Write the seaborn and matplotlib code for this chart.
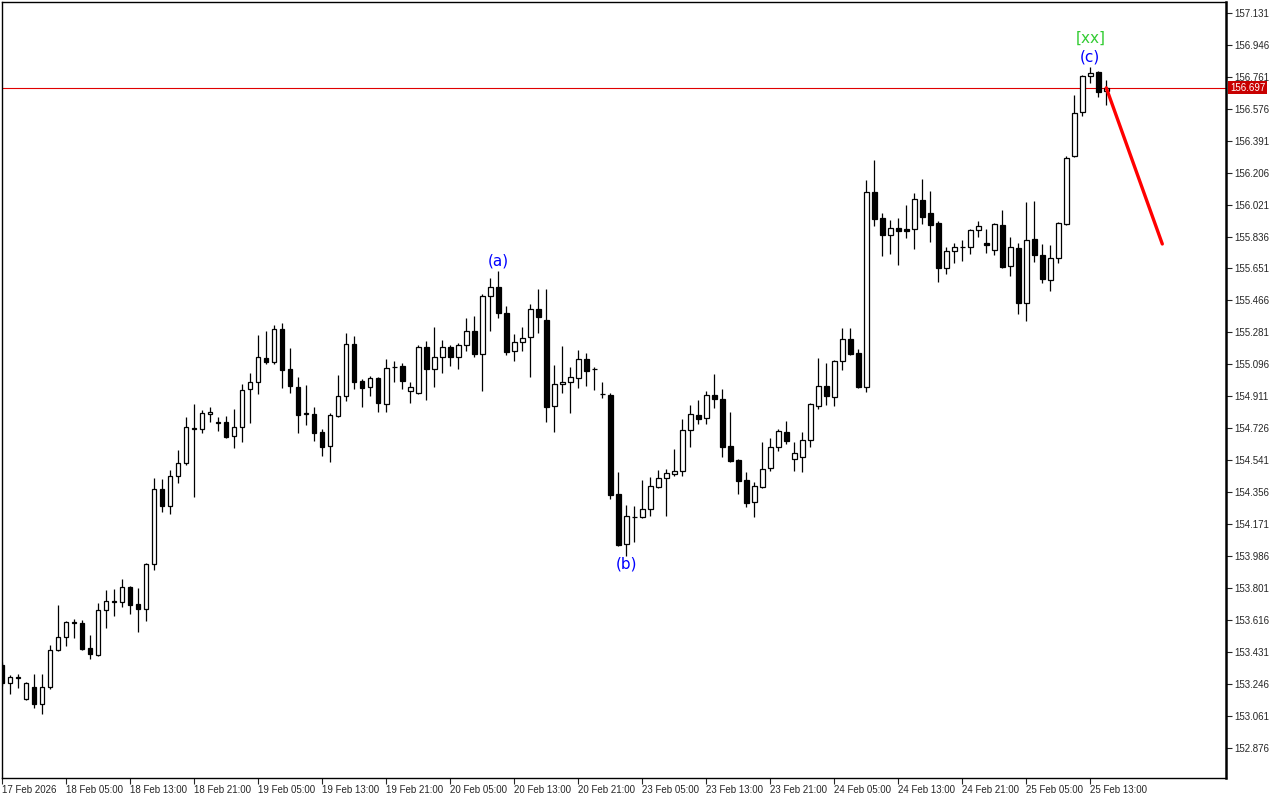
import numpy as np
import pandas as pd
import seaborn as sns
import matplotlib
matplotlib.use("Agg")
import matplotlib.pyplot as plt

# ================ DATA ==============================================
# hourly candles, 17 Feb 21:00 .. 25 Feb 18:00
opens = [
	153.356, 153.252, 153.281, 153.159, 153.228, 153.130, 153.229, 153.443, 153.517, 153.598,
	153.598, 153.454, 153.414, 153.674, 153.720, 153.720, 153.807, 153.709, 153.680, 153.941,
	154.375, 154.276, 154.450, 154.526, 154.722, 154.722, 154.809, 154.757, 154.762, 154.681,
	154.733, 154.954, 154.994, 155.134, 155.110, 155.301, 155.070, 154.965, 154.809, 154.809,
	154.705, 154.624, 154.797, 154.913, 155.214, 155.000, 154.965, 155.018, 154.867, 155.081,
	155.087, 154.942, 154.931, 155.197, 155.070, 155.139, 155.197, 155.139, 155.208, 155.289,
	155.157, 155.492, 155.544, 155.394, 155.174, 155.226, 155.255, 155.417, 155.353, 154.855,
	154.983, 154.994, 155.018, 155.128, 155.070, 154.925, 154.919, 154.346, 154.056, 154.212,
	154.212, 154.259, 154.386, 154.439, 154.462, 154.479, 154.716, 154.803, 154.786, 154.919,
	154.896, 154.624, 154.543, 154.427, 154.299, 154.386, 154.496, 154.618, 154.705, 154.549,
	154.560, 154.658, 154.855, 154.971, 154.907, 155.116, 155.243, 155.163, 154.965, 156.094,
	155.944, 155.845, 155.886, 155.880, 155.880, 156.048, 155.973, 155.915, 155.654, 155.753,
	155.776, 155.776, 155.874, 155.799, 155.759, 155.903, 155.666, 155.770, 155.452, 155.822,
	155.730, 155.585, 155.712, 155.909, 156.303, 156.558, 156.766, 156.789, 156.679,
]
highs = [
	153.373, 153.298, 153.304, 153.257, 153.304, 153.304, 153.471, 153.703, 153.610, 153.622,
	153.616, 153.529, 153.715, 153.790, 153.796, 153.854, 153.813, 153.802, 153.947, 154.439,
	154.433, 154.485, 154.601, 154.791, 154.867, 154.832, 154.849, 154.791, 154.797, 154.838,
	154.983, 155.047, 155.266, 155.289, 155.324, 155.336, 155.191, 155.023, 154.977, 154.849,
	154.722, 154.815, 155.035, 155.278, 155.260, 155.012, 155.029, 155.023, 155.128, 155.116,
	155.105, 154.994, 155.208, 155.231, 155.312, 155.237, 155.208, 155.220, 155.365, 155.376,
	155.503, 155.596, 155.637, 155.434, 155.272, 155.312, 155.446, 155.533, 155.533, 155.093,
	155.203, 155.081, 155.180, 155.163, 155.081, 154.994, 154.931, 154.473, 154.282, 154.276,
	154.427, 154.444, 154.485, 154.491, 154.607, 154.780, 154.861, 154.890, 154.942, 155.041,
	154.954, 154.820, 154.549, 154.473, 154.415, 154.647, 154.670, 154.722, 154.768, 154.647,
	154.705, 154.873, 155.134, 155.105, 155.122, 155.307, 155.307, 155.186, 156.164, 156.280,
	155.973, 155.932, 155.944, 156.019, 156.088, 156.170, 156.100, 155.926, 155.776, 155.799,
	155.816, 155.880, 155.926, 155.880, 155.915, 155.990, 155.834, 155.799, 156.036, 156.042,
	155.793, 155.787, 155.920, 156.303, 156.656, 156.772, 156.818, 156.795, 156.743,
]
lows = [
	153.234, 153.188, 153.223, 153.153, 153.107, 153.072, 153.217, 153.437, 153.465, 153.512,
	153.443, 153.391, 153.408, 153.570, 153.639, 153.691, 153.651, 153.547, 153.610, 153.906,
	154.241, 154.230, 154.410, 154.514, 154.328, 154.699, 154.762, 154.710, 154.670, 154.612,
	154.647, 154.757, 154.925, 155.099, 155.099, 154.960, 154.931, 154.699, 154.745, 154.653,
	154.566, 154.531, 154.791, 154.884, 154.954, 154.849, 154.913, 154.820, 154.820, 154.994,
	154.954, 154.873, 154.925, 154.890, 154.965, 155.047, 155.087, 155.070, 155.174, 155.139,
	154.942, 155.289, 155.365, 155.151, 155.116, 155.174, 155.023, 155.278, 154.762, 154.705,
	154.931, 154.815, 154.960, 154.971, 154.948, 154.902, 154.317, 154.044, 153.987, 154.067,
	154.207, 154.218, 154.380, 154.218, 154.450, 154.450, 154.618, 154.751, 154.751, 154.844,
	154.560, 154.531, 154.346, 154.270, 154.212, 154.380, 154.479, 154.595, 154.635, 154.479,
	154.473, 154.618, 154.838, 154.861, 154.855, 155.064, 155.151, 154.960, 154.936, 155.897,
	155.724, 155.736, 155.672, 155.828, 155.764, 155.909, 155.805, 155.573, 155.620, 155.683,
	155.695, 155.736, 155.834, 155.741, 155.730, 155.654, 155.608, 155.388, 155.347, 155.689,
	155.567, 155.521, 155.683, 155.903, 156.297, 156.534, 156.725, 156.644, 156.598,
]
closes = [
	153.252, 153.286, 153.286, 153.252, 153.130, 153.228, 153.443, 153.517, 153.604, 153.604,
	153.449, 153.420, 153.674, 153.726, 153.726, 153.807, 153.703, 153.680, 153.941, 154.375,
	154.276, 154.450, 154.526, 154.733, 154.728, 154.815, 154.820, 154.762, 154.676, 154.733,
	154.948, 154.994, 155.139, 155.110, 155.301, 155.064, 154.971, 154.803, 154.815, 154.699,
	154.618, 154.803, 154.913, 155.214, 154.994, 154.960, 155.018, 154.873, 155.076, 155.083,
	155.000, 154.965, 155.197, 155.070, 155.139, 155.197, 155.139, 155.208, 155.289, 155.157,
	155.492, 155.544, 155.394, 155.168, 155.226, 155.249, 155.417, 155.370, 154.849, 154.983,
	154.994, 155.023, 155.128, 155.058, 155.068, 154.923, 154.340, 154.050, 154.218, 154.213,
	154.259, 154.392, 154.439, 154.468, 154.479, 154.716, 154.809, 154.780, 154.919, 154.896,
	154.618, 154.537, 154.421, 154.293, 154.392, 154.491, 154.618, 154.710, 154.653, 154.583,
	154.658, 154.867, 154.971, 154.913, 155.116, 155.243, 155.157, 154.965, 156.094, 155.938,
	155.845, 155.886, 155.868, 155.868, 156.054, 155.950, 155.903, 155.654, 155.753, 155.776,
	155.778, 155.874, 155.897, 155.787, 155.909, 155.660, 155.776, 155.452, 155.816, 155.730,
	155.591, 155.712, 155.915, 156.291, 156.552, 156.766, 156.783, 156.673, 156.697,
]

time_labels = ["17 Feb 2026", "18 Feb 05:00", "18 Feb 13:00", "18 Feb 21:00", "19 Feb 05:00",
	"19 Feb 13:00", "19 Feb 21:00", "20 Feb 05:00", "20 Feb 13:00", "20 Feb 21:00",
	"23 Feb 05:00", "23 Feb 13:00", "23 Feb 21:00", "24 Feb 05:00", "24 Feb 13:00",
	"24 Feb 21:00", "25 Feb 05:00", "25 Feb 13:00"]
label_step = 8  # one label every 8 bars

price_ticks = [152.876, 153.061, 153.246, 153.431, 153.616, 153.801, 153.986, 154.171,
	154.356, 154.541, 154.726, 154.911, 155.096, 155.281, 155.466, 155.651, 155.836,
	156.021, 156.206, 156.391, 156.576, 156.761, 156.946, 157.131]

bid = 156.697
# wave marks: (bar, text, anchored on high/low)
waves = [(62, "(a)", "high"), (78, "(b)", "low"), (136, "(c)", "high")]
forecast_bars = [138, 145]
forecast_prices = [156.697, 155.793]

# ================ PLOT ==============================================
sns.set_style("white")
plt.rcParams['font.family'] = ['Liberation Sans', 'DejaVu Sans']

df = pd.DataFrame({"o": opens, "h": highs, "l": lows, "c": closes})
df["bar"] = np.arange(len(df))
df["down"] = df["c"] < df["o"]

fig = plt.figure(figsize=(12.8, 8), dpi=100)
ax = fig.add_axes([2/1280, 22/800, 1224/1280, 776/800])

ax.vlines(df["bar"], df["l"], df["h"], color="black", lw=0.9, zorder=2)
body_lo = df[["o", "c"]].min(axis=1)
body_h = (df["c"] - df["o"]).abs()
ax.bar(df["bar"], body_h, bottom=body_lo, width=0.6,
	color=np.where(df["down"], "black", "white"), edgecolor="black", linewidth=0.9, zorder=3)

ax.axhline(bid, color="#e00000", lw=0.8, zorder=1)

fc = pd.DataFrame({"bar": forecast_bars, "price": forecast_prices})
sns.lineplot(data=fc, x="bar", y="price", color="#ff0000", lw=2.4, ax=ax, zorder=5)

for bar, txt, side in waves:
	if side == "high":
		ax.annotate(txt, (bar, highs[bar]), xytext=(0, 7), textcoords="offset points",
			ha="center", va="center", color="#0000ff", fontsize=11, family="DejaVu Sans")
	else:
		ax.annotate(txt, (bar, lows[bar]), xytext=(0, -6), textcoords="offset points",
			ha="center", va="center", color="#0000ff", fontsize=11, family="DejaVu Sans")
ax.annotate("[xx]", (136, highs[136]), xytext=(0, 20.5), textcoords="offset points",
	ha="center", va="center", color="#33cc33", fontsize=11, family="DejaVu Sans")

ax.set_xlim(0, 152.96)
ax.set_ylim(152.701, 157.194)
ax.set_xlabel("")
ax.set_ylabel("")

ax.set_xticks(np.arange(len(time_labels)) * label_step)
ax.set_xticklabels(time_labels)
for lab in ax.get_xticklabels():
	lab.set_ha("left")
ax.tick_params(axis="x", bottom=True, length=4, width=0.8, pad=1, labelsize=7, direction="out")

ax.yaxis.tick_right()
ax.set_yticks(price_ticks)
ax.set_yticklabels([f"{p:.3f}" for p in price_ticks])
ax.tick_params(axis="y", right=True, left=False, length=4, width=0.8, pad=2, labelsize=7, direction="out")

for s in ax.spines.values():
	s.set_color("black")
	s.set_linewidth(1)
ax.spines["right"].set_linewidth(1.8)

ax.text(1.0 + 4/1224, bid, f"{bid:.3f}", transform=ax.get_yaxis_transform(),
	ha="left", va="center", color="white", fontsize=7,
	bbox=dict(facecolor="#c80000", edgecolor="none", pad=1.2), clip_on=False, zorder=6)

fig.savefig("out.png", dpi=100)
